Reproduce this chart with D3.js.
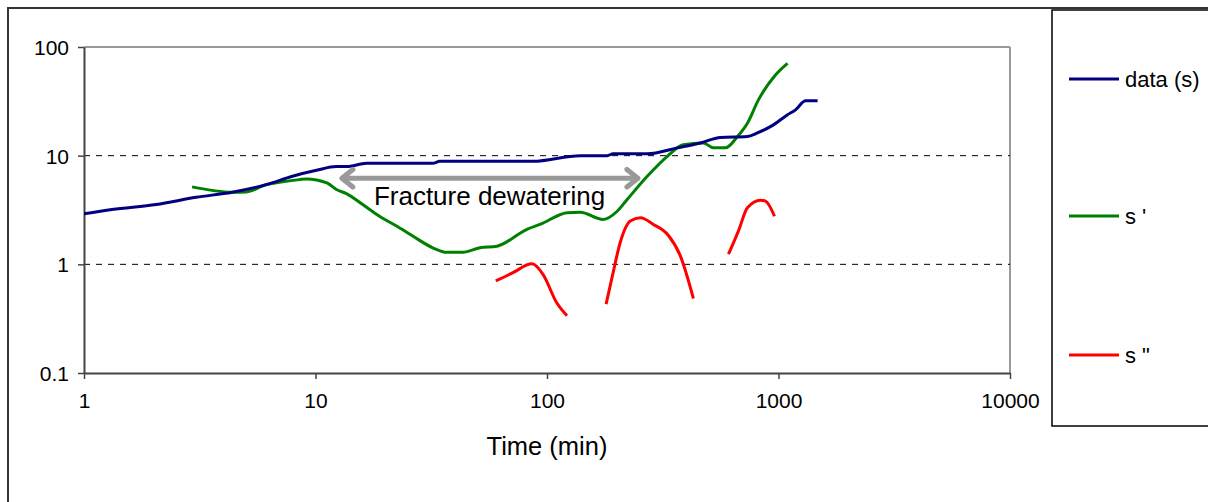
<!DOCTYPE html>
<html>
<head>
<meta charset="utf-8">
<script src="https://cdn.jsdelivr.net/npm/d3@7"></script>
<style>
  html, body { margin: 0; padding: 0; background: #fff; }
  svg { display: block; font-family: "Liberation Sans", Arial, sans-serif; }
</style>
</head>
<body>
<svg id="chart" width="1208" height="502"></svg>
<script>
// ---- data ----
const xTicks = [1, 10, 100, 1000, 10000];
const xTickLabels = ["1", "10", "100", "1000", "10000"];
const yTicks = [0.1, 1, 10, 100];
const yTickLabels = ["0.1", "1", "10", "100"];
const gridValues = [1, 10];

const seriesNames = ["data (s)", "s '", "s \""];
const seriesColors = ["#000080", "#008000", "#ff0000"];

const dataT = [1, 1.32, 2.05, 3.05, 4.37, 6.14, 7.95, 10.1, 12.3, 13.6, 16.6, 32.1, 34.4, 87, 139, 182, 193, 271, 365, 459, 561, 734, 811, 951, 1094, 1185, 1309, 1475];
const dataS = [2.92, 3.2, 3.55, 4.14, 4.61, 5.42, 6.46, 7.33, 7.93, 7.93, 8.5, 8.5, 8.87, 8.87, 10.0, 10.0, 10.4, 10.4, 11.8, 13.1, 14.7, 15.0, 16.2, 19.2, 23.8, 26.4, 32.0, 32.0];

const d1T = [2.93, 4.37, 5.03, 6.14, 6.98, 8.52, 9.14, 11.2, 12.3, 13.6, 16.0, 18.9, 22.4, 26.3, 32.1, 36.9, 43.3, 51.3, 60.8, 81.9, 93.3, 122, 139, 175, 201, 222, 271, 331, 388, 474, 523, 590, 665, 734, 819, 970, 1094];
const d1S = [5.16, 4.61, 4.64, 5.42, 5.69, 6.02, 6.11, 5.62, 4.88, 4.48, 3.55, 2.77, 2.25, 1.82, 1.42, 1.29, 1.29, 1.42, 1.47, 2.1, 2.33, 2.98, 3.02, 2.59, 3.08, 3.95, 6.46, 9.86, 12.6, 13.1, 11.8, 11.8, 15.0, 19.9, 32.6, 55.3, 70.8];

// second derivative: three separate pieces
const d2Segments = [
  { t: [60.1, 71.3, 86.1, 96.1, 110, 122], s: [0.703, 0.839, 1.01, 0.81, 0.445, 0.336] },
  { t: [180, 193, 207, 229, 253, 288, 334, 377, 429], s: [0.43, 0.84, 1.58, 2.5, 2.68, 2.33, 1.85, 1.19, 0.485] },
  { t: [608, 671, 734, 836, 879, 961], s: [1.24, 2.02, 3.31, 3.89, 3.81, 2.77] }
];

const annotText = "Fracture dewatering";
const annotFrom = [13.0, 6.2];
const annotTo = [247, 6.2];
const xTitle = "Time (min)";

(function () {
// ---- layout ----
const svg = d3.select("#chart");
const pL = 84, pR = 1010, pT = 47, pB = 373;
const FONT = "Liberation Sans, Arial, sans-serif";

const x = d3.scaleLog().domain([1, 10000]).range([pL, pR]);
const y = d3.scaleLog().domain([0.1, 100]).range([pB, pT]);

// outer frame
svg.append("rect").attr("x", 8).attr("y", 8).attr("width", 1230).attr("height", 520)
  .attr("fill", "none").attr("stroke", "#333").attr("stroke-width", 2);

// plot frame (top and right gray)
svg.append("line").attr("x1", pL).attr("x2", pR).attr("y1", pT).attr("y2", pT)
  .attr("stroke", "#999").attr("stroke-width", 2);
svg.append("line").attr("x1", pR).attr("x2", pR).attr("y1", pT).attr("y2", pB)
  .attr("stroke", "#999").attr("stroke-width", 2);

// gridlines
svg.append("g").selectAll("line").data(gridValues).join("line")
  .attr("x1", pL).attr("x2", pR)
  .attr("y1", d => y(d)).attr("y2", d => y(d))
  .attr("stroke", "#000").attr("stroke-width", 1).attr("stroke-dasharray", "6,6");

// axes
const xAxis = d3.axisBottom(x).tickValues(xTicks).tickFormat((d, i) => xTickLabels[i]).tickSize(6).tickSizeOuter(0);
const gx = svg.append("g").attr("transform", `translate(0,${pB})`).call(xAxis);
gx.select(".domain").attr("stroke", "#444").attr("stroke-width", 2);
gx.selectAll(".tick line").attr("stroke", "#444").attr("stroke-width", 1.5);
gx.selectAll(".tick text").attr("font-size", 21).attr("font-family", FONT)
  .attr("fill", "#000").attr("dy", null).attr("y", 35);

const yAxis = d3.axisLeft(y).tickValues(yTicks).tickFormat((d, i) => yTickLabels[i]).tickSize(6).tickSizeOuter(0);
const gy = svg.append("g").attr("transform", `translate(${pL},0)`).call(yAxis);
gy.select(".domain").attr("stroke", "#444").attr("stroke-width", 2);
gy.selectAll(".tick line").attr("stroke", "#444").attr("stroke-width", 1.5);
gy.selectAll(".tick text").attr("font-size", 21).attr("font-family", FONT)
  .attr("fill", "#000").attr("x", -15).attr("dy", "0.35em");

// x title
svg.append("text").attr("x", 547).attr("y", 455)
  .attr("text-anchor", "middle").attr("font-size", 25.5).text(xTitle);

// series
const line = d3.line().x(d => x(d[0])).y(d => y(d[1])).curve(d3.curveMonotoneX);
svg.append("defs").append("clipPath").attr("id", "plotclip")
  .append("rect").attr("x", pL).attr("y", pT - 2).attr("width", pR - pL).attr("height", pB - pT + 2);
const plot = svg.append("g").attr("clip-path", "url(#plotclip)");

plot.append("path").datum(d1T.map((t, i) => [t, d1S[i]])).attr("d", line)
  .attr("fill", "none").attr("stroke", seriesColors[1]).attr("stroke-width", 3).attr("stroke-linejoin", "round");
plot.append("path").datum(dataT.map((t, i) => [t, dataS[i]])).attr("d", line)
  .attr("fill", "none").attr("stroke", seriesColors[0]).attr("stroke-width", 3).attr("stroke-linejoin", "round");
d2Segments.forEach(seg => {
  plot.append("path").datum(seg.t.map((t, i) => [t, seg.s[i]])).attr("d", line)
    .attr("fill", "none").attr("stroke", seriesColors[2]).attr("stroke-width", 3).attr("stroke-linejoin", "round");
});

// annotation arrow
const ax1 = x(annotFrom[0]), ay = y(annotFrom[1]), ax2 = x(annotTo[0]);
const ah = 11;
svg.append("path")
  .attr("d", `M${ax1},${ay}L${ax2},${ay}M${ax1 + ah},${ay - ah * 0.8}L${ax1},${ay}L${ax1 + ah},${ay + ah * 0.8}M${ax2 - ah},${ay - ah * 0.8}L${ax2},${ay}L${ax2 - ah},${ay + ah * 0.8}`)
  .attr("fill", "none").attr("stroke", "#999").attr("stroke-width", 5).attr("stroke-linecap", "round").attr("stroke-linejoin", "round");
svg.append("text").attr("x", 489.5).attr("y", 205)
  .attr("text-anchor", "middle").attr("font-size", 26).text(annotText);

// legend
svg.append("rect").attr("x", 1052).attr("y", 10).attr("width", 200).attr("height", 416)
  .attr("fill", "#fff").attr("stroke", "#000").attr("stroke-width", 1.5);
const legendY = [79, 216, 355];
const lg = svg.append("g").selectAll("g").data(seriesNames).join("g")
  .attr("transform", (d, i) => `translate(0,${legendY[i]})`);
lg.append("line").attr("x1", 1069).attr("x2", 1119).attr("y1", 0).attr("y2", 0)
  .attr("stroke", (d, i) => seriesColors[i]).attr("stroke-width", 3);
lg.append("text").attr("x", 1125).attr("y", 0).attr("dy", "0.35em")
  .attr("font-size", 22).text(d => d);
})();
</script>
</body>
</html>
